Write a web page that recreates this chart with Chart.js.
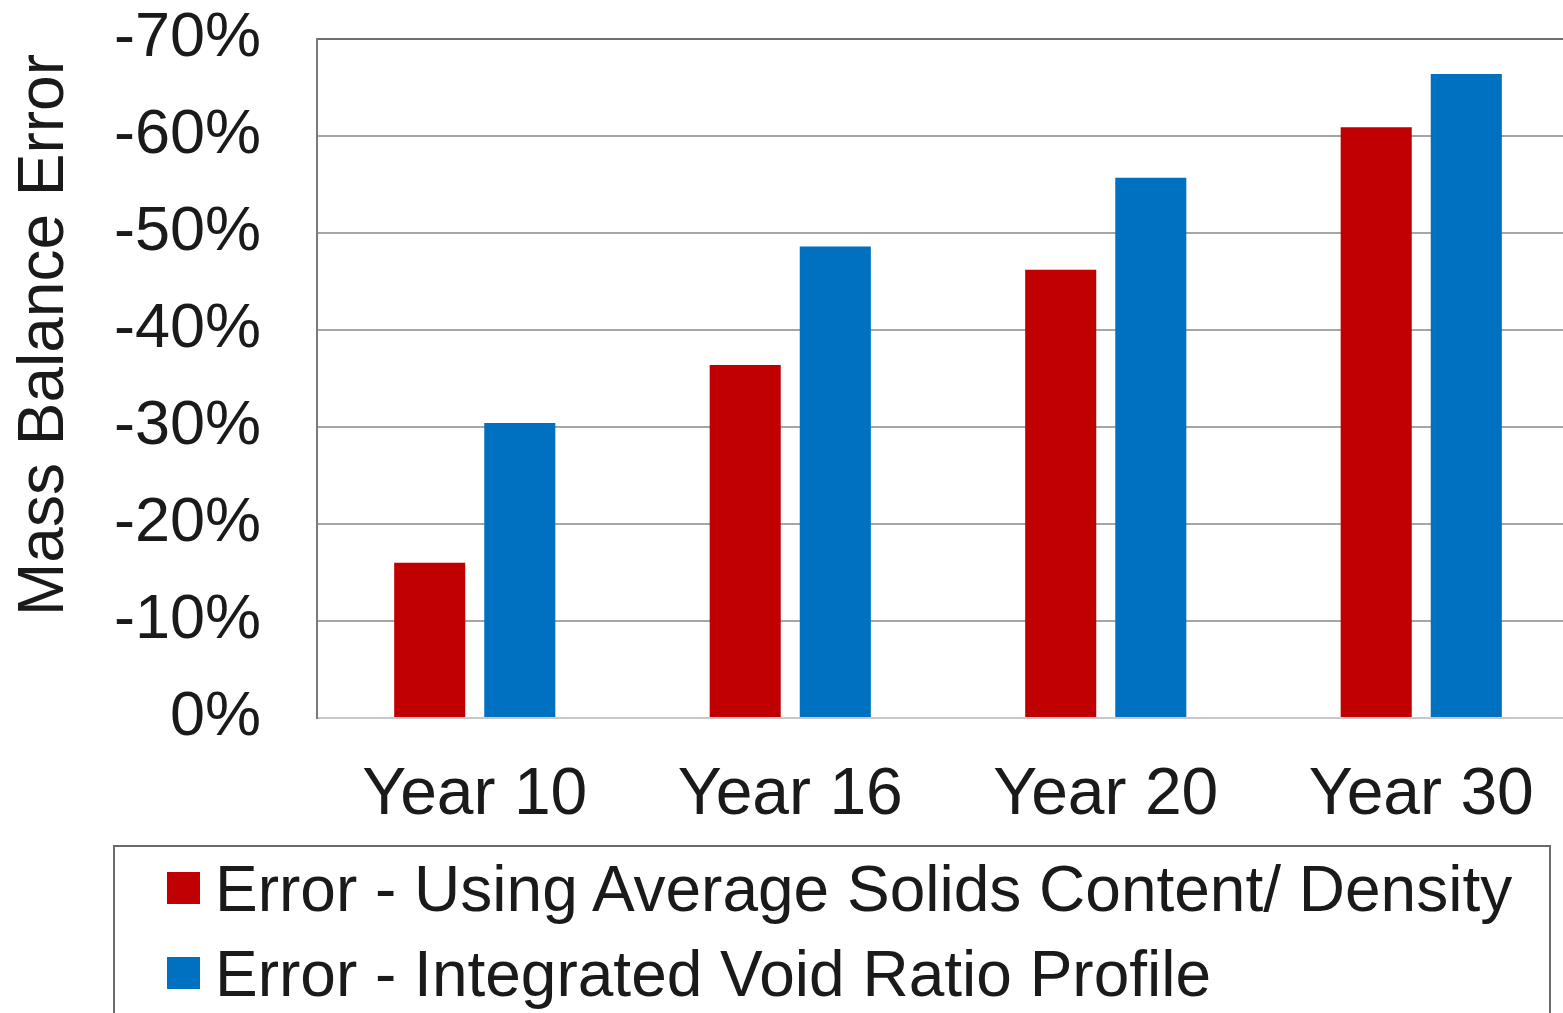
<!DOCTYPE html>
<html>
<head>
<meta charset="utf-8">
<script src="https://cdn.jsdelivr.net/npm/chart.js@4"></script>
<style>
  body { margin: 0; background: #fff; width: 1563px; height: 1013px; overflow: hidden; position: relative; }
  #wrap { position: absolute; left: 0; top: 0; width: 1579px; height: 1013px; }
  #legend {
    position: absolute; left: 113px; top: 845px; width: 1434px; height: 200px;
    border: 2px solid #6b6b6b; font-family: 'Liberation Sans', Arial, sans-serif;
    font-size: 64px; color: #1a1a1a;
  }
  .row { position: relative; height: 85px; line-height: 85px; padding-left: 100px; white-space: nowrap; }
  .sw { position: absolute; left: 52px; top: 25px; width: 33px; height: 32px; }
</style>
</head>
<body>
<div id="wrap"><canvas id="myChart" width="1579" height="1013"></canvas></div>
<div id="legend"></div>
<script>
var years = ["Year 10", "Year 16", "Year 20", "Year 30"];
var avgSolids = [-0.16, -0.364, -0.462, -0.609];
var voidRatio = [-0.304, -0.486, -0.557, -0.664];
var seriesNames = ["Error - Using Average Solids Content/ Density", "Error - Integrated Void Ratio Profile"];
var seriesColors = ["#C00000", "#0070C0"];
var yTitle = "Mass Balance Error";

var font = "'Liberation Sans', Arial, sans-serif";

// y axis title, placed like the original (not centered on the plot)
const yTitlePlugin = {
    id: 'yTitle',
    afterDraw(chart) {
        let ctx = chart.ctx;
        ctx.save();
        ctx.translate(45, 335);
        ctx.rotate(-Math.PI / 2);
        ctx.font = `64px ${font}`;
        ctx.fillStyle = '#1a1a1a';
        ctx.textAlign = 'center';
        ctx.textBaseline = 'middle';
        ctx.fillText(yTitle, 0, 0);
        ctx.restore();
    }
};

function getGraph() {
    const ctx = document.getElementById('myChart');
    new Chart(ctx, {
        type: 'bar',
        data: {
            labels: years,
            datasets: [{
                label: seriesNames[0],
                data: avgSolids,
                backgroundColor: seriesColors[0],
                categoryPercentage: 0.571,
                barPercentage: 0.789
            }, {
                label: seriesNames[1],
                data: voidRatio,
                backgroundColor: seriesColors[1],
                categoryPercentage: 0.571,
                barPercentage: 0.789
            }]
        },
        options: {
            responsive: false,
            animation: false,
            layout: { padding: { top: 39, right: 0, left: 0, bottom: 0 } },
            plugins: { legend: { display: false }, tooltip: { enabled: false } },
            scales: {
                x: {
                    grid: { display: false, drawTicks: false },
                    border: { color: '#c8c8c8', width: 2 },
                    ticks: { color: '#1a1a1a', font: { family: font, size: 66 }, padding: 38, maxRotation: 0 },
                    afterFit(s) { s.height = 1013 - 718; s.paddingLeft = 0; s.paddingRight = 0; }
                },
                y: {
                    min: -0.7,
                    max: 0,
                    reverse: true,
                    grid: {
                        drawTicks: false,
                        lineWidth: 2,
                        color: (c) => (c.tick && Math.round(c.tick.value * 100) == -70) ? '#6d6d6d' : '#a6a6a6'
                    },
                    border: { color: '#7a7a7a', width: 2 },
                    ticks: {
                        stepSize: 0.1,
                        padding: 56,
                        color: '#1a1a1a',
                        font: { family: font, size: 63 },
                        callback: (v) => `${Math.round(v * 100)}%`
                    },
                    afterFit(s) { s.width = 317; s.paddingTop = 0; s.paddingBottom = 0; }
                }
            }
        },
        plugins: [yTitlePlugin]
    });
}

function getLegend() {
    let html = '';
    for (let i = 0; i < seriesNames.length; i++) {
        html += `<div class="row"><span class="sw" style="background:${seriesColors[i]}"></span>${seriesNames[i]}</div>`;
    }
    document.getElementById('legend').innerHTML = html;
}

getGraph();
getLegend();
</script>
</body>
</html>
